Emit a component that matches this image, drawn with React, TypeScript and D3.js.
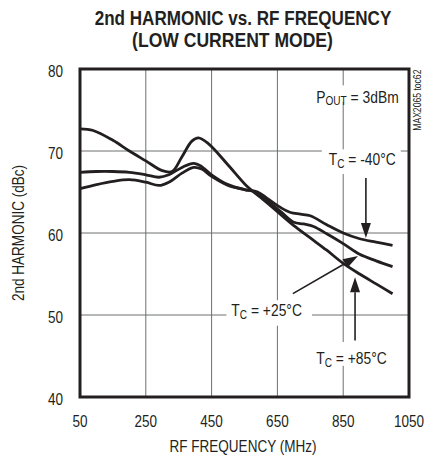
import React from "react";
import * as d3 from "d3";

const W = 426;
const H = 455;

const xTicks = [50, 250, 450, 650, 850, 1050];
const yTicks = [40, 50, 60, 70, 80];
const xGrid = [50, 250, 450, 650, 850, 1050];
const yGrid = [40, 50, 60, 70, 80];

// Tc = +85°C
const freq85 = [50, 90, 150, 200, 250, 300, 330, 360, 390, 410, 440, 500, 560, 600, 650, 700, 750, 800, 850, 900, 950, 1000];
const val85 = [72.7, 72.5, 71.3, 70.0, 68.8, 67.6, 67.5, 69.3, 71.2, 71.6, 70.9, 68.3, 65.6, 64.3, 62.6, 60.9, 59.4, 57.9, 56.3, 55.0, 53.8, 52.6];

// Tc = -40°C
const freqM40 = [50, 100, 150, 200, 250, 290, 320, 360, 395, 420, 450, 500, 550, 590, 620, 660, 690, 720, 750, 800, 850, 900, 950, 1000];
const valM40 = [67.4, 67.5, 67.5, 67.4, 67.1, 66.8, 67.1, 68.0, 68.5, 68.1, 67.1, 65.9, 65.3, 65.0, 64.2, 63.1, 62.5, 62.3, 62.1, 61.0, 60.0, 59.3, 58.9, 58.5];

// Tc = +25°C
const freq25 = [50, 100, 150, 200, 250, 290, 320, 360, 395, 420, 450, 500, 550, 590, 620, 660, 700, 730, 760, 800, 850, 900, 950, 1000];
const val25 = [65.4, 65.9, 66.3, 66.5, 66.2, 65.8, 66.2, 67.3, 68.0, 67.8, 66.9, 65.8, 65.3, 64.9, 63.9, 62.6, 61.3, 61.1, 60.8, 59.9, 58.7, 57.4, 56.6, 55.9];

const series = [
  { f: freq85, v: val85 },
  { f: freqM40, v: valM40 },
  { f: freq25, v: val25 },
];

const FONT = "'Liberation Sans', Arial, sans-serif";
const SX = 0.82;
const ink = "#231f20";

type CTProps = {
  x: number;
  y: number;
  size?: number;
  anchor?: "start" | "middle" | "end";
  rotate?: number;
  sx?: number;
  bold?: boolean;
  children: React.ReactNode;
};

function CText({ x, y, size = 16.5, anchor = "start", rotate = 0, sx = SX, bold = false, children }: CTProps) {
  return (
    <g transform={`translate(${x},${y}) rotate(${rotate}) scale(${sx},1)`}>
      <text x={0} y={0} fontSize={size} fontFamily={FONT} fontWeight={bold ? "bold" : "normal"} textAnchor={anchor} fill={ink}>
        {children}
      </text>
    </g>
  );
}

export default function App() {
  const x = d3.scaleLinear().domain([50, 1050]).range([80, 409]);
  const y = d3.scaleLinear().domain([40, 80]).range([397, 69]);
  const line = d3
    .line<[number, number]>()
    .x((d) => x(d[0]))
    .y((d) => y(d[1]))
    .curve(d3.curveCatmullRom.alpha(0.5));

  const gridColor = "#6d6e71";

  const arrow = (x1: number, y1: number, x2: number, y2: number, key: string) => {
    const px1 = x(x1), py1 = y(y1), px2 = x(x2), py2 = y(y2);
    const ang = Math.atan2(py2 - py1, px2 - px1);
    const L = 15, Wd = 5;
    const bx = px2 - L * Math.cos(ang), by = py2 - L * Math.sin(ang);
    const nx = -Math.sin(ang) * Wd, ny = Math.cos(ang) * Wd;
    return (
      <g key={key}>
        <line x1={px1} y1={py1} x2={bx} y2={by} stroke={ink} strokeWidth={1.6} />
        <polygon points={`${px2},${py2} ${bx + nx},${by + ny} ${bx - nx},${by - ny}`} fill={ink} />
      </g>
    );
  };

  // white boxes behind annotations: [x0 freq, x1 freq, top value, bottom value]
  const boxes: [number, number, number, number][] = [
    [733, 1010, 78.0, 76.0],
    [785, 1025, 70.2, 67.2],
    [495, 755, 51.8, 48.7],
    [750, 1002, 46.7, 43.8],
  ];

  const tc = (fx: number, vy: number, t: string) => (
    <CText x={x(fx)} y={y(vy)} sx={0.84}>
      T<tspan fontSize={12} dy={3}>C</tspan>
      <tspan dy={-3}>{t}</tspan>
    </CText>
  );

  return (
    <svg width={W} height={H} style={{ position: "absolute", left: 0, top: 0, background: "white" }}>
      <rect x={0} y={0} width={W} height={H} fill="white" />
      <CText x={243} y={25} size={19.5} bold anchor="middle" sx={0.875}>
        2nd HARMONIC vs. RF FREQUENCY
      </CText>
      <CText x={232.5} y={47} size={19.5} bold anchor="middle" sx={0.9}>
        (LOW CURRENT MODE)
      </CText>

      {xGrid.map((g) => (
        <line key={"xg" + g} x1={x(g)} x2={x(g)} y1={y(40)} y2={y(80)} stroke={gridColor} strokeWidth={1} />
      ))}
      {yGrid.map((g) => (
        <line key={"yg" + g} x1={x(50)} x2={x(1050)} y1={y(g)} y2={y(g)} stroke={gridColor} strokeWidth={1} />
      ))}

      {boxes.map((b, i) => (
        <rect key={"bx" + i} x={x(b[0])} y={y(b[2])} width={x(b[1]) - x(b[0])} height={y(b[3]) - y(b[2])} fill="white" />
      ))}

      <CText x={x(768)} y={y(75.8)} sx={0.84}>
        P<tspan fontSize={12} dy={2}>OUT</tspan>
        <tspan dy={-2}> = 3dBm</tspan>
      </CText>
      {tc(806, 68.3, " = -40°C")}
      {tc(510, 49.9, " = +25°C")}
      {tc(768, 44.0, " = +85°C")}

      {series.map((s, i) => (
        <path
          key={"s" + i}
          d={line(s.f.map((f, j) => [f, s.v[j]] as [number, number])) || ""}
          fill="none"
          stroke={ink}
          strokeWidth={2.8}
          strokeLinejoin="round"
        />
      ))}

      {arrow(919, 66.7, 919, 59.4, "a1")}
      {arrow(697, 52.6, 895, 57.2, "a2")}
      {arrow(886, 46.9, 886, 54.6, "a3")}

      <rect x={x(50)} y={y(80)} width={x(1050) - x(50)} height={y(40) - y(80)} fill="none" stroke={ink} strokeWidth={3} />

      <CText x={x(1050) + 12} y={y(76.2)} size={10.5} anchor="middle" rotate={-90}>
        MAX2065 toc62
      </CText>

      {yTicks.map((t) => (
        <CText key={"yt" + t} x={63} y={y(t) + 8} anchor="end">
          {t}
        </CText>
      ))}
      {xTicks.map((t) => (
        <CText key={"xt" + t} x={x(t)} y={427} anchor="middle">
          {t}
        </CText>
      ))}
      <CText x={243} y={452} anchor="middle">
        RF FREQUENCY (MHz)
      </CText>
      <CText x={24} y={y(60)} anchor="middle" rotate={-90}>
        2nd HARMONIC (dBc)
      </CText>
    </svg>
  );
}
